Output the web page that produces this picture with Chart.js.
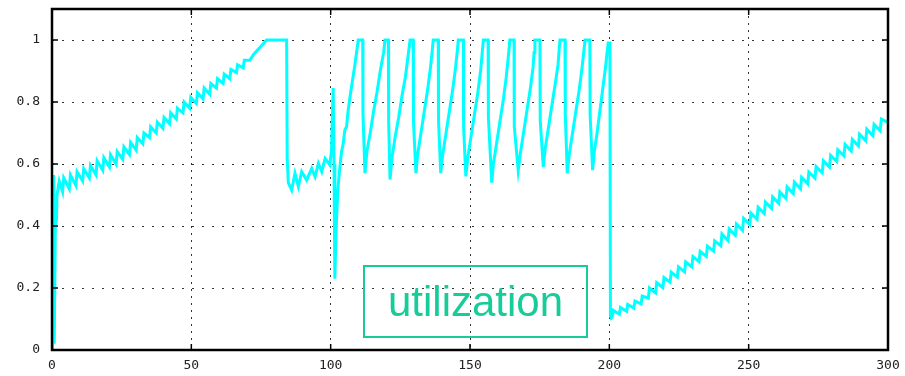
<!DOCTYPE html>
<html lang="en">
<head>
<meta charset="UTF-8">
<title>utilization</title>
<script src="https://cdn.jsdelivr.net/npm/chart.js"></script>
<style>
  body { margin: 0; background: #fff; }
  #wrap { position: relative; width: 905px; height: 376px; }
  #legenda {
    position: absolute; left: 363px; top: 265px; width: 221px; height: 69px;
    border: 2px solid #18cc99; color: #18cc99;
    font-family: "Liberation Sans", Arial, sans-serif; font-size: 42px;
    line-height: 69px; text-align: center;
  }
</style>
</head>
<body>
<div id="wrap">
  <canvas id="grafico" width="905" height="376"></canvas>
  <div id="legenda">utilization</div>
</div>

<script>
// partida: pico inicial em t=0
const startT = [0, 0.2, 0.6, 0.8, 1.0, 1.2, 1.6, 1.8];
const startU = [0, 0.56, 0.56, 0.02, 0.02, 0.40, 0.42, 0.50];

// primeira rampa (dente de serra pequeno) ate saturar em 1
const ramp1T = [2.0, 2.6, 3.8, 4.2, 6.2, 6.6, 8.6, 9.0, 11.0, 11.4, 13.4, 13.8, 15.8, 16.2, 18.2, 18.6,
  20.6, 21.0, 23.0, 23.4, 25.4, 25.8, 27.8, 28.2, 30.2, 30.6, 32.6, 33.0, 35.0, 35.4, 37.4, 37.8,
  39.8, 40.2, 42.2, 42.6, 44.6, 45.0, 47.0, 47.4, 49.4, 49.8, 51.8, 52.2, 54.2, 54.6, 56.6, 57.0,
  59.0, 59.4, 61.4, 61.8, 63.8, 64.2, 66.2, 66.6, 68.6, 69.0, 71.0, 72.5, 74.0, 75.5, 77.0, 84.2];
const ramp1U = [0.50, 0.545, 0.51, 0.555, 0.52, 0.565, 0.53, 0.575, 0.545, 0.585, 0.555, 0.595, 0.565, 0.61, 0.58, 0.62,
  0.59, 0.63, 0.60, 0.64, 0.615, 0.655, 0.63, 0.67, 0.645, 0.685, 0.665, 0.70, 0.685, 0.72, 0.70, 0.735,
  0.715, 0.75, 0.73, 0.765, 0.745, 0.78, 0.765, 0.80, 0.78, 0.815, 0.795, 0.83, 0.81, 0.845, 0.825, 0.86,
  0.845, 0.875, 0.86, 0.89, 0.875, 0.905, 0.895, 0.92, 0.91, 0.935, 0.935, 0.955, 0.97, 0.985, 1.0, 1.0];

// queda e vale entre 84 e 101
const dipT = [84.4, 84.8, 86.0, 87.2, 88.4, 89.6, 91.4, 93.2, 94.4, 95.6, 96.8, 98.0, 99.7, 100.3, 100.9, 101.2, 101.5];
const dipU = [0.62, 0.54, 0.516, 0.57, 0.527, 0.575, 0.548, 0.586, 0.559, 0.602, 0.575, 0.618, 0.597, 0.645, 0.845, 0.60, 0.23];

const recT = [102.0, 102.6, 103.2, 103.9, 104.4, 105.1, 105.7, 106.3, 107.0, 107.5, 108.7, 109.3, 109.9, 111.5];
const recU = [0.40, 0.52, 0.58, 0.64, 0.66, 0.71, 0.72, 0.775, 0.82, 0.85, 0.92, 0.96, 1.0, 1.0];

// oscilacao 111..200 (ciclos)
const oscAT = [111.6, 112.3, 113.0, 114.2, 115.4, 116.6, 117.8, 119.0, 119.5, 120.7,
  120.8, 121.3, 122.0, 123.2, 124.4, 125.6, 126.8, 127.8, 128.5, 129.6,
  129.7, 130.6, 131.2, 132.4, 133.6, 134.8, 135.8, 136.4, 136.8, 138.6,
  138.7, 139.5, 140.2, 141.4, 142.6, 143.8, 144.8, 145.4, 145.8, 147.6,
  147.7, 148.5, 149.2, 150.4, 151.6, 152.8, 153.8, 154.4, 154.8, 156.5];
const oscAU = [0.76, 0.57, 0.64, 0.70, 0.77, 0.83, 0.90, 0.96, 1.0, 1.0,
  0.74, 0.55, 0.62, 0.69, 0.75, 0.82, 0.88, 0.95, 1.0, 1.0,
  0.74, 0.57, 0.63, 0.70, 0.77, 0.84, 0.91, 0.96, 1.0, 1.0,
  0.74, 0.57, 0.63, 0.70, 0.77, 0.84, 0.91, 0.96, 1.0, 1.0,
  0.72, 0.56, 0.62, 0.69, 0.76, 0.83, 0.90, 0.96, 1.0, 1.0];
const oscBT = [156.6, 157.8, 158.4, 159.6, 160.8, 162.0, 163.0, 163.8, 164.3, 165.8,
  165.9, 167.3, 168.0, 169.2, 170.4, 171.6, 172.6, 173.0, 173.3, 175.1,
  175.2, 176.3, 177.0, 178.2, 179.4, 180.6, 181.6, 182.0, 182.3, 184.1,
  184.2, 184.9, 185.6, 186.8, 188.0, 189.2, 190.2, 190.8, 191.3, 193.0,
  193.1, 194.0, 194.6, 195.6, 196.6, 197.6, 198.6, 199.2, 199.6, 200.2];
const oscBU = [0.75, 0.54, 0.60, 0.67, 0.74, 0.81, 0.88, 0.95, 1.0, 1.0,
  0.72, 0.58, 0.63, 0.70, 0.77, 0.84, 0.91, 0.96, 1.0, 1.0,
  0.74, 0.59, 0.65, 0.72, 0.79, 0.86, 0.92, 0.97, 1.0, 1.0,
  0.76, 0.57, 0.63, 0.70, 0.77, 0.84, 0.91, 0.96, 1.0, 1.0,
  0.76, 0.58, 0.64, 0.70, 0.77, 0.84, 0.91, 0.96, 0.99, 0.99];

// segunda rampa 200..300
const ramp2T = [200.4, 200.7, 201.0, 201.4, 203.6, 204.0, 206.2, 206.6, 208.8, 209.2, 211.4, 211.8, 214.0, 214.4,
  216.6, 217.0, 219.2, 219.6, 221.8, 222.2, 224.4, 224.8, 227.0, 227.4, 229.6, 230.0, 232.2, 232.6,
  234.8, 235.2, 237.4, 237.8, 240.0, 240.4, 242.6, 243.0, 245.2, 245.6, 247.8, 248.2, 250.4, 250.8,
  253.0, 253.4, 255.6, 256.0, 258.2, 258.6, 260.8, 261.2, 263.4, 263.8, 266.0, 266.4, 268.6, 269.0,
  271.2, 271.6, 273.8, 274.2, 276.4, 276.8, 279.0, 279.4, 281.6, 282.0, 284.2, 284.6, 286.8, 287.2,
  289.4, 289.8, 292.0, 292.4, 294.6, 295.0, 297.2, 297.6, 299.8];
const ramp2U = [0.11, 0.103, 0.106, 0.128, 0.115, 0.137, 0.125, 0.147, 0.135, 0.158, 0.149, 0.174, 0.167, 0.200,
  0.184, 0.217, 0.201, 0.234, 0.219, 0.251, 0.235, 0.268, 0.252, 0.284, 0.268, 0.301, 0.285, 0.318,
  0.302, 0.335, 0.319, 0.352, 0.336, 0.374, 0.353, 0.390, 0.370, 0.406, 0.386, 0.425, 0.405, 0.442,
  0.422, 0.460, 0.440, 0.477, 0.457, 0.494, 0.473, 0.510, 0.489, 0.526, 0.505, 0.541, 0.520, 0.557,
  0.536, 0.574, 0.554, 0.592, 0.572, 0.610, 0.590, 0.628, 0.608, 0.646, 0.626, 0.663, 0.642, 0.679,
  0.658, 0.696, 0.675, 0.712, 0.691, 0.728, 0.707, 0.745, 0.735];

const xTicks = [0, 50, 100, 150, 200, 250, 300];
const yTicks = [0, 0.2, 0.4, 0.6, 0.8, 1];

function juntar(ts, us) {
  const pontos = [];
  for (let i = 0; i < ts.length; i++) pontos.push({ x: ts[i], y: us[i] });
  return pontos;
}

const pontos = [].concat(
  juntar(startT, startU), juntar(ramp1T, ramp1U), juntar(dipT, dipU), juntar(recT, recU),
  juntar(oscAT, oscAU), juntar(oscBT, oscBU), juntar(ramp2T, ramp2U)
);

// moldura preta e tiques para dentro (estilo gnuplot)
const moldura = {
  id: 'moldura',
  afterDatasetsDraw(chart) {
    const { ctx, chartArea: a, scales: { x, y } } = chart;
    ctx.save();
    ctx.strokeStyle = '#000';
    ctx.lineWidth = 1.5;
    ctx.beginPath();
    xTicks.forEach(v => {
      const px = x.getPixelForValue(v);
      ctx.moveTo(px, a.bottom); ctx.lineTo(px, a.bottom - 6);
      ctx.moveTo(px, a.top); ctx.lineTo(px, a.top + 6);
    });
    yTicks.forEach(v => {
      const py = y.getPixelForValue(v);
      ctx.moveTo(a.left, py); ctx.lineTo(a.left + 6, py);
      ctx.moveTo(a.right, py); ctx.lineTo(a.right - 6, py);
    });
    ctx.stroke();
    ctx.lineWidth = 2.5;
    ctx.strokeRect(a.left, a.top, a.width, a.height);
    ctx.restore();
  }
};

const fonteEixo = { family: '"DejaVu Sans Mono", monospace', size: 13 };

new Chart(document.getElementById('grafico'), {
  type: 'line',
  data: {
    datasets: [{
      label: 'utilization',
      data: pontos,
      borderColor: '#00ffff',
      borderWidth: 3,
      pointRadius: 0,
      tension: 0,
      fill: false
    }]
  },
  options: {
    responsive: false,
    animation: false,
    devicePixelRatio: 1,
    layout: { padding: { top: 9, right: 17, left: 0, bottom: 0 } },
    plugins: { legend: { display: false }, tooltip: { enabled: false } },
    scales: {
      x: {
        type: 'linear', min: 0, max: 300,
        afterBuildTicks: s => { s.ticks = xTicks.map(v => ({ value: v })); },
        afterFit: s => { s.height = 26; s.paddingLeft = 0; s.paddingRight = 0; },
        ticks: { color: '#222', font: fonteEixo, padding: 8, maxRotation: 0, callback: v => String(v) },
        grid: { color: '#333', lineWidth: 1, drawTicks: false },
        border: { display: false, dash: [2, 5] }
      },
      y: {
        type: 'linear', min: 0, max: 1.1,
        afterBuildTicks: s => { s.ticks = yTicks.map(v => ({ value: v })); },
        afterFit: s => { s.width = 52; s.paddingTop = 0; s.paddingBottom = 0; },
        ticks: { color: '#222', font: fonteEixo, padding: 12, callback: v => String(v) },
        grid: { color: '#333', lineWidth: 1, drawTicks: false },
        border: { display: false, dash: [2, 8] }
      }
    }
  },
  plugins: [moldura]
});
</script>
</body>
</html>
